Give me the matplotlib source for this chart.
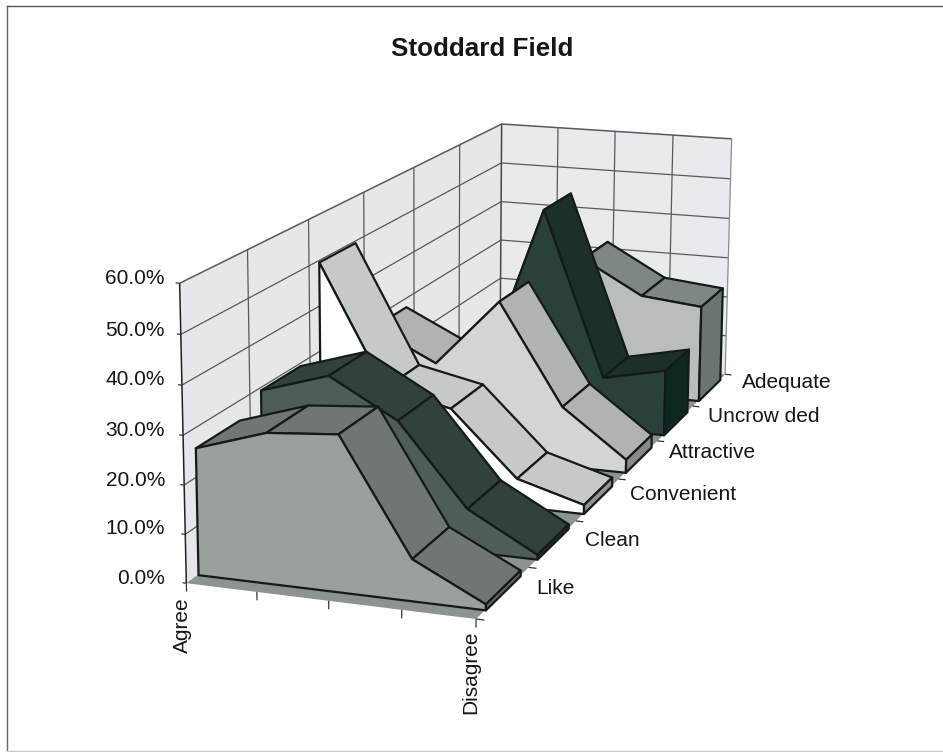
import numpy as np
import matplotlib
matplotlib.use('Agg')
import matplotlib.pyplot as plt
from mpl_toolkits.mplot3d.art3d import Poly3DCollection, Line3DCollection

W, H = 943, 752

# series values in percent, front row first, Agree -> Disagree
like = [26.0, 30.6, 31.8, 8.5, 1.2]
clean = [29.5, 34.0, 26.0, 9.0, 1.0]
convenient = [49.7, 23.3, 20.2, 6.2, 2.0]
attractive = [28.0, 21.0, 36.5, 13.7, 3.0]
uncrowded = [8.0, 10.0, 51.2, 12.4, 15.5]
adequate = [5.0, 15.0, 33.0, 25.0, 23.5]
series = [like, clean, convenient, attractive, uncrowded, adequate]
series_names = ['Like', 'Clean', 'Convenient', 'Attractive', 'Uncrow ded', 'Adequate']
z_ticks = [0, 10, 20, 30, 40, 50, 60]
z_labels = ['0.0%', '10.0%', '20.0%', '30.0%', '40.0%', '50.0%', '60.0%']

# front, top, right end colours per series
colors = [('#9aa09e', '#6f7674', '#5f6664'),
          ('#4d5d58', '#31413d', '#24332f'),
          ('#ffffff', '#c6c9c9', '#8e9291'),
          ('#d3d5d5', '#b0b3b3', '#858a89'),
          ('#2a413b', '#1c302b', '#0f2723'),
          ('#b9bdbb', '#7f8785', '#6c7472')]

# picture positions of known box points (x, depth, z) -> pixels, for the camera
cam_pts = [((0, 0, 0), (187, 583)), ((4, 0, 0), (475, 620)), ((4, 6, 0), (727, 373)),
           ((0, 6, 0), (499.5, 356)), ((0, 0, 60), (179, 283)), ((0, 6, 60), (501, 123)),
           ((4, 6, 60), (732, 139)), ((1, 6, 60), (557, 127)), ((2, 6, 60), (616, 133)),
           ((3, 6, 60), (673, 137)), ((0, 1, 60), (248, 248)), ((0, 2, 60), (308, 220)),
           ((0, 3, 60), (364, 192)), ((0, 4, 60), (414, 167)), ((0, 5, 60), (461, 145)),
           ((4, 1, 0), (527, 568)), ((4, 2, 0), (575, 521)), ((4, 3, 0), (618, 478)),
           ((4, 4, 0), (658, 441)), ((4, 5, 0), (692, 404)), ((1, 0, 0), (258, 592)),
           ((2, 0, 0), (330, 601)), ((3, 0, 0), (402, 611)), ((0, 6, 20), (500, 278)),
           ((0, 6, 40), (500.5, 201))]

fig = plt.figure(figsize=(W / 100, H / 100), dpi=100)
fig.patch.set_facecolor('white')
ax = fig.add_axes([0, (H - W) / 2 / H, 1, W / H], projection='3d')
ax.set_axis_off()
ax.computed_zorder = False
ax.apply_aspect()


def fit_camera():
    # direct linear transform, the Excel view is not one view_init can reach
    world = np.array([p[0] for p in cam_pts], float)
    pix = np.array([p[1] for p in cam_pts], float)
    uv = ax.transData.inverted().transform(np.c_[pix[:, 0], H - pix[:, 1]])
    rows = []
    for (x, y, z), (u, v) in zip(world, uv):
        rows.append([x, y, z, 1, 0, 0, 0, 0, -u * x, -u * y, -u * z, -u])
        rows.append([0, 0, 0, 0, x, y, z, 1, -v * x, -v * y, -v * z, -v])
    rows = np.array(rows)
    # scale the columns so z=60 does not swamp the fit
    s = np.array([4, 6, 60, 1, 4, 6, 60, 1, 4, 6, 60, 1.0])
    vec = np.linalg.svd(rows * s)[2][-1] * s
    p = vec.reshape(3, 4)
    return np.array([p[0], p[1], [0, 0, 0, 1.0], p[2]])


cam = fit_camera()
ax.get_proj = lambda: cam
ax.M = cam

order = [0]


def poly(verts, face, edge='#141a18', lw=1.6):
    order[0] += 1
    col = Poly3DCollection([verts], facecolors=face, edgecolors=edge, linewidths=lw,
                           zorder=order[0])
    col.set_joinstyle('round')
    ax.add_collection3d(col, autolim=False)


def line(xs, ys, zs, color='#555a5a', lw=0.9):
    order[0] += 1
    seg = Line3DCollection([list(zip(xs, ys, zs))], colors=color, linewidths=lw, zorder=order[0])
    ax.add_collection3d(seg, autolim=False)


# walls and floor
poly([(0, 0, 0), (0, 6, 0), (0, 6, 60), (0, 0, 60)], '#e6e7ea', 'none', 0)
poly([(0, 6, 0), (4, 6, 0), (4, 6, 60), (0, 6, 60)], '#e9eaed', 'none', 0)
poly([(0, 0, 0), (4, 0, 0), (4, 6, 0), (0, 6, 0)], '#8d9390', 'none', 0)
for z in z_ticks[1:]:
    line([0, 0, 4], [0, 6, 6], [z, z, z], lw=0.9 if z < 60 else 1.1)
for d in range(1, 6):
    line([0, 0], [d, d], [0, 60])
for c in range(1, 5):
    line([c, c], [6, 6], [0, 60], color='#8a8e8e' if c == 4 else '#555a5a')
line([0, 0], [6, 6], [0, 60], color='#444848', lw=1.1)
line([0, 0], [0, 0], [0, 60], color='#222222', lw=1.1)

# tick marks
for z in z_ticks:
    line([0, -0.055], [0, 0], [z, z], color='#333333')
for c in range(5):
    line([c, c], [0, 0], [0, -1.7], color='#333333')
for d in range(7):
    line([4, 4.11], [d, d], [0, 0], color='#333333')

xpos = np.arange(5)
gap = 0.17
for i in range(5, -1, -1):
    vals = series[i]
    front_c, top_c, end_c = colors[i]
    y0, y1 = i + gap, i + 1 - gap
    for k in range(4):
        poly([(xpos[k], y0, vals[k]), (xpos[k + 1], y0, vals[k + 1]),
              (xpos[k + 1], y1, vals[k + 1]), (xpos[k], y1, vals[k])], top_c)
    poly([(xpos[k], y0, 0) for k in range(5)] + [(xpos[k], y0, vals[k]) for k in range(4, -1, -1)],
         front_c)
    poly([(4, y0, 0), (4, y1, 0), (4, y1, vals[4]), (4, y0, vals[4])], end_c)


def px_text(x, y, s, **kw):
    fig.text(x / W, 1 - y / H, s, family=['Liberation Sans', 'DejaVu Sans'], color='#14161c', **kw)


px_text(482, 49, 'Stoddard Field', fontsize=18.7, fontweight='bold', ha='center', va='center')
for lab, cy in zip(z_labels, [578, 529, 481, 431, 379, 330, 278]):
    px_text(165, cy, lab, fontsize=15, ha='right', va='center')
for lab, lx, cy in zip(series_names, [536, 585, 630, 669, 708, 742], [589, 540, 495, 453, 417, 383]):
    px_text(lx, cy, lab, fontsize=15, ha='left', va='center')
px_text(182, 597, 'Agree', fontsize=15, rotation=90, ha='center', va='top')
px_text(471, 631, 'Disagree', fontsize=15, rotation=90, ha='center', va='top')

# scanned frame round the sheet
fig.add_artist(plt.Line2D([7 / W, 7 / W], [1 - 6 / H, 1 - 751 / H], color='#666666', lw=1))
fig.add_artist(plt.Line2D([7 / W, 942 / W], [1 - 6 / H, 1 - 6 / H], color='#555555', lw=1))
fig.add_artist(plt.Line2D([7 / W, 942 / W], [1 - 751 / H, 1 - 751 / H], color='#cccccc', lw=1))

fig.savefig('out.png', dpi=100)
